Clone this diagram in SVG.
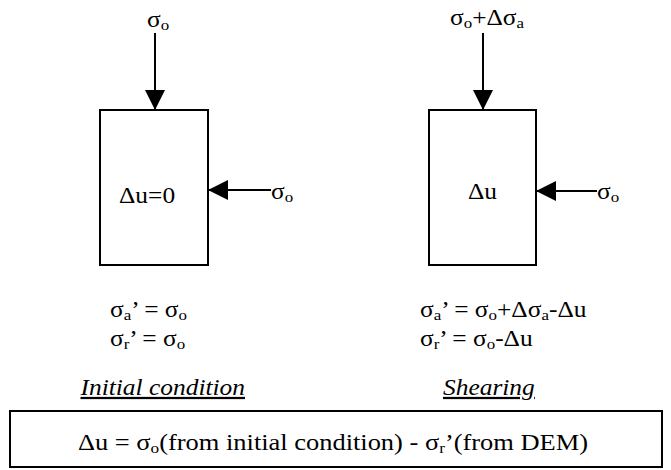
<svg xmlns="http://www.w3.org/2000/svg" width="671" height="470" viewBox="0 0 671 470">
<style>
  .t { font-family: "Liberation Serif", "Times New Roman", serif; font-size: 22.5px; fill: #000; }
  .it { font-style: italic; text-decoration: underline; }
  .box { fill: #fff; stroke: #000; stroke-width: 2; }
  .ln { stroke: #000; stroke-width: 2; fill: none; }
</style>
<defs>
  <marker id="ah" markerUnits="userSpaceOnUse" markerWidth="21" markerHeight="21" refX="20" refY="10" orient="auto" viewBox="0 0 21 21">
    <path d="M0,0 L20,10 L0,20 z" fill="#000"/>
  </marker>
</defs>
<rect width="671" height="470" fill="#fff"/>

<g id="initial-element">
  <rect class="box" x="100" y="110" width="108" height="155"/>
  <text class="t" transform="translate(119 203) scale(1.13 1)">Δu=0</text>
</g>

<g id="shearing-element">
  <rect class="box" x="429" y="110" width="107" height="155"/>
  <text class="t" transform="translate(468 199) scale(1.13 1)">Δu</text>
</g>

<g id="connectors">
  <line class="ln" x1="155" y1="33" x2="155" y2="110" marker-end="url(#ah)"/>
  <line class="ln" x1="271" y1="190" x2="208" y2="190" marker-end="url(#ah)"/>
  <line class="ln" x1="483" y1="33" x2="483" y2="110" marker-end="url(#ah)"/>
  <line class="ln" x1="597" y1="191" x2="536" y2="191" marker-end="url(#ah)"/>
</g>

<g id="load-labels">
  <text class="t" transform="translate(147 27) scale(1.13 1)">σ<tspan font-size="15" dy="3">o</tspan></text>
  <text class="t" transform="translate(271 199) scale(1.13 1)">σ<tspan font-size="15" dy="3">o</tspan></text>
  <text class="t" transform="translate(450 25) scale(1.13 1)">σ<tspan font-size="15" dy="3">o</tspan><tspan dy="-3">+Δσ</tspan><tspan font-size="15" dy="3">a</tspan></text>
  <text class="t" transform="translate(597 199) scale(1.13 1)">σ<tspan font-size="15" dy="3">o</tspan></text>
</g>

<g id="initial-equations">
  <text class="t" transform="translate(110 317) scale(1.13 1)">σ<tspan font-size="15" dy="3">a</tspan><tspan dy="-3">’ = σ</tspan><tspan font-size="15" dy="3">o</tspan></text>
  <text class="t" transform="translate(110 346) scale(1.13 1)">σ<tspan font-size="15" dy="3">r</tspan><tspan dy="-3">’ = σ</tspan><tspan font-size="15" dy="3">o</tspan></text>
  <text class="t it" transform="translate(245 395) scale(1.13 1)" text-anchor="end">Initial condition</text>
</g>

<g id="shearing-equations">
  <text class="t" transform="translate(420 317) scale(1.13 1)">σ<tspan font-size="15" dy="3">a</tspan><tspan dy="-3">’ = σ</tspan><tspan font-size="15" dy="3">o</tspan><tspan dy="-3">+Δσ</tspan><tspan font-size="15" dy="3">a</tspan><tspan dy="-3">-Δu</tspan></text>
  <text class="t" transform="translate(420 346) scale(1.13 1)">σ<tspan font-size="15" dy="3">r</tspan><tspan dy="-3">’ = σ</tspan><tspan font-size="15" dy="3">o</tspan><tspan dy="-3">-Δu</tspan></text>
  <text class="t it" transform="translate(443 395) scale(1.13 1)">Shearing</text>
</g>

<g id="pore-pressure-box">
  <rect class="box" x="10" y="411" width="652" height="56"/>
  <text class="t" font-size="23" transform="translate(78 450) scale(1.15 1)" style="font-size:23px">Δu = σ<tspan font-size="15" dy="3">o</tspan><tspan dy="-3">(from initial condition) - σ</tspan><tspan font-size="15" dy="3">r</tspan><tspan dy="-3">’(from DEM)</tspan></text>
</g>
</svg>
